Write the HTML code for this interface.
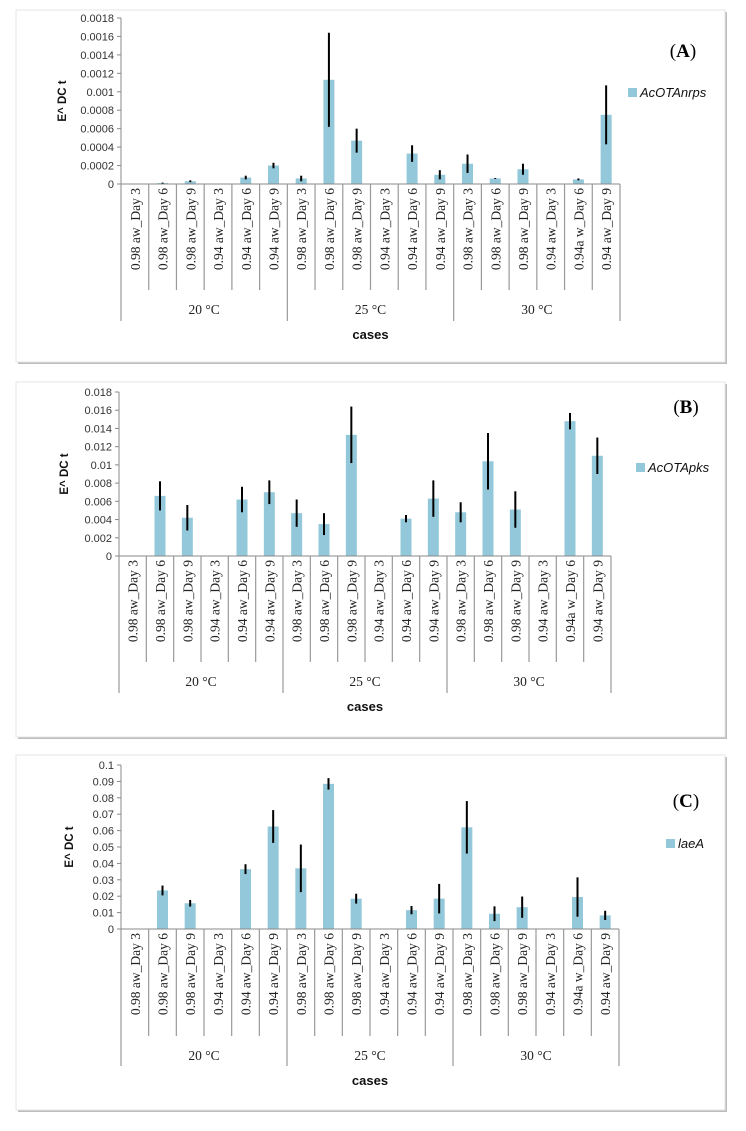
<!DOCTYPE html>
<html><head><meta charset="utf-8">
<style>
body{margin:0;background:#fff;width:746px;height:1131px;overflow:hidden;font-family:"Liberation Sans",sans-serif;}
svg{position:absolute;left:0;top:0;}
</style></head>
<body>
<svg id="fig" width="746" height="1131" xmlns="http://www.w3.org/2000/svg"></svg>
<script>
const categories = ["0.98 aw_Day 3","0.98 aw_Day 6","0.98 aw_Day 9","0.94 aw_Day 3","0.94 aw_Day 6","0.94 aw_Day 9","0.98 aw_Day 3","0.98 aw_Day 6","0.98 aw_Day 9","0.94 aw_Day 3","0.94 aw_Day 6","0.94 aw_Day 9","0.98 aw_Day 3","0.98 aw_Day 6","0.98 aw_Day 9","0.94 aw_Day 3","0.94a w_Day 6","0.94 aw_Day 9"];
const groups = ["20 °C","25 °C","30 °C"];
const valuesA = [0,0.00001,0.00003,0,0.00007,0.0002,0.00006,0.00113,0.00047,0,0.00033,0.0001,0.00022,0.00006,0.00016,0,0.00005,0.00075];
const errorsA = [0,0.000005,0.00001,0,0.00002,0.00003,0.00003,0.00051,0.00013,0,0.00009,0.00005,0.0001,0.000005,0.00006,0,0.00001,0.00032];
const ticksA = ["0","0.0002","0.0004","0.0006","0.0008","0.001","0.0012","0.0014","0.0016","0.0018"];
const valuesB = [0,0.0066,0.0042,0,0.0062,0.007,0.0047,0.0035,0.0133,0,0.0041,0.0063,0.0048,0.0104,0.0051,0,0.0148,0.011];
const errorsB = [0,0.0016,0.0014,0,0.0014,0.0013,0.0015,0.0012,0.0031,0,0.0004,0.002,0.0011,0.0031,0.002,0,0.0009,0.002];
const ticksB = ["0","0.002","0.004","0.006","0.008","0.01","0.012","0.014","0.016","0.018"];
const valuesC = [0,0.0235,0.0157,0,0.0365,0.0625,0.037,0.0885,0.0185,0,0.0115,0.0185,0.062,0.0093,0.0133,0,0.0195,0.0083];
const errorsC = [0,0.003,0.002,0,0.003,0.01,0.0145,0.0035,0.003,0,0.0025,0.009,0.016,0.0045,0.0065,0,0.012,0.0028];
const ticksC = ["0","0.01","0.02","0.03","0.04","0.05","0.06","0.07","0.08","0.09","0.1"];

const NS="http://www.w3.org/2000/svg";
const fig=document.getElementById('fig');
function mk(tag,attrs,parent,text){const e=document.createElementNS(NS,tag);for(const k in attrs)e.setAttribute(k,attrs[k]);if(text!==undefined)e.textContent=text;(parent||fig).appendChild(e);return e;}

function panel(cfg){
  const g=mk('g',{});
  
  
  const fr=mk('rect',{x:cfg.box[0]+2,y:cfg.box[1]+2,width:cfg.box[2],height:cfg.box[3],fill:'#bdbdbd'},g);
  
  
  const bx=mk('rect',{x:cfg.box[0],y:cfg.box[1],width:cfg.box[2],height:cfg.box[3],fill:'#fff',stroke:'#e4e4e4','stroke-width':1},g);
  
  
  const x0=cfg.x0,x1=cfg.x1,yTop=cfg.yTop,yZero=cfg.yZero,max=cfg.max;
  const n=categories.length,cw=(x1-x0)/n;
  const ys=v=>yZero-(v/max)*(yZero-yTop);
  const xs=i=>x0+cw*(i+0.5);
  // y ticks
  cfg.ticks.forEach(t=>{
    const y=ys(parseFloat(t));
    mk('line',{x1:x0-4,x2:x0,y1:y,y2:y,stroke:'#888'},g);
    const tx=mk('text',{x:x0-7,y:y+4,'font-size':11,'text-anchor':'end',fill:'#333'},g,t);
    
    
  });
  const ya=mk('line',{x1:x0,x2:x0,y1:yTop,y2:yZero,stroke:'#888'},g);
  
  
  // bars
  cfg.values.forEach((v,i)=>{
    if(v>0){
      const b=mk('rect',{x:xs(i)-5.5,y:ys(v),width:11,height:yZero-ys(v),fill:'#92c8d9'},g);
      
      
      const e=cfg.errors[i];
      if(e>0){
        const el=mk('line',{x1:xs(i),x2:xs(i),y1:ys(v-e),y2:ys(v+e),stroke:'#000','stroke-width':2},g);
        
        
      }
    }
  });
  // x axis and category cells
  const xa=mk('line',{x1:x0,x2:x1,y1:yZero,y2:yZero,stroke:'#888'},g);
  
  
  for(let i=0;i<=n;i++){
    const x=x0+cw*i;
    const bottom=(i%6===0)?cfg.groupBottom:cfg.labBottom;
    mk('line',{x1:x,x2:x,y1:yZero,y2:bottom,stroke:'#999','stroke-width':1.2},g);
  }
  categories.forEach((c,i)=>{
    const t=mk('text',{x:0,y:0,'font-size':13.5,'font-family':'"Liberation Serif",serif','text-anchor':'end',fill:'#222',
      transform:`translate(${xs(i)+5},${yZero+4}) rotate(-90)`},g,c);
    
    
  });
  groups.forEach((gname,k)=>{
    const t=mk('text',{x:x0+cw*(6*k+3),y:cfg.groupY,'font-size':13.5,'font-family':'"Liberation Serif",serif','text-anchor':'middle',fill:'#222'},g,gname);
    
    
  });
  const xt=mk('text',{x:(x0+x1)/2,y:cfg.casesY,'font-size':13,'font-weight':'bold','text-anchor':'middle',fill:'#111'},g,'cases');
  
  
  const yt=mk('text',{x:0,y:0,'font-size':11.5,'font-weight':'bold','text-anchor':'middle',fill:'#111',
    transform:`translate(${cfg.yTitleX},${(yTop+yZero)/2}) rotate(-90)`},g,'E^ DC t');
  
  
  const ls=mk('rect',{x:cfg.leg[0],y:cfg.leg[1]-5,width:9,height:9,fill:'#92c8d9'},g);
  
  
  const lt=mk('text',{x:cfg.leg[0]+12,y:cfg.leg[1]+4,'font-size':13,'font-style':'italic',fill:'#111'},g,cfg.series);
  
  
  const pl=mk('text',{x:cfg.lab[0],y:cfg.lab[1],'font-size':19,'font-family':'"Liberation Serif",serif','text-anchor':'middle',fill:'#000'},g);
  
  
  pl.innerHTML='(<tspan font-weight="bold">'+cfg.id+'</tspan>)';
}

panel({id:'A',box:[16,10,709,352],x0:121,x1:620,yTop:18,yZero:184,max:0.0018,values:valuesA,errors:errorsA,ticks:ticksA,
  labBottom:290,groupBottom:321,groupY:314,casesY:339,yTitleX:66,leg:[628,93],series:'AcOTAnrps',lab:[683,57]});
panel({id:'B',box:[16,382,709,355],x0:119,x1:611,yTop:392,yZero:556,max:0.018,values:valuesB,errors:errorsB,ticks:ticksB,
  labBottom:662,groupBottom:693,groupY:686,casesY:711,yTitleX:68,leg:[636,468],series:'AcOTApks',lab:[686,413]});
panel({id:'C',box:[16,755,709,355],x0:121,x1:619,yTop:765,yZero:929,max:0.1,values:valuesC,errors:errorsC,ticks:ticksC,
  labBottom:1036,groupBottom:1066,groupY:1060,casesY:1085,yTitleX:73,leg:[666,844],series:'laeA',lab:[686,807]});
</script>
</body></html>
